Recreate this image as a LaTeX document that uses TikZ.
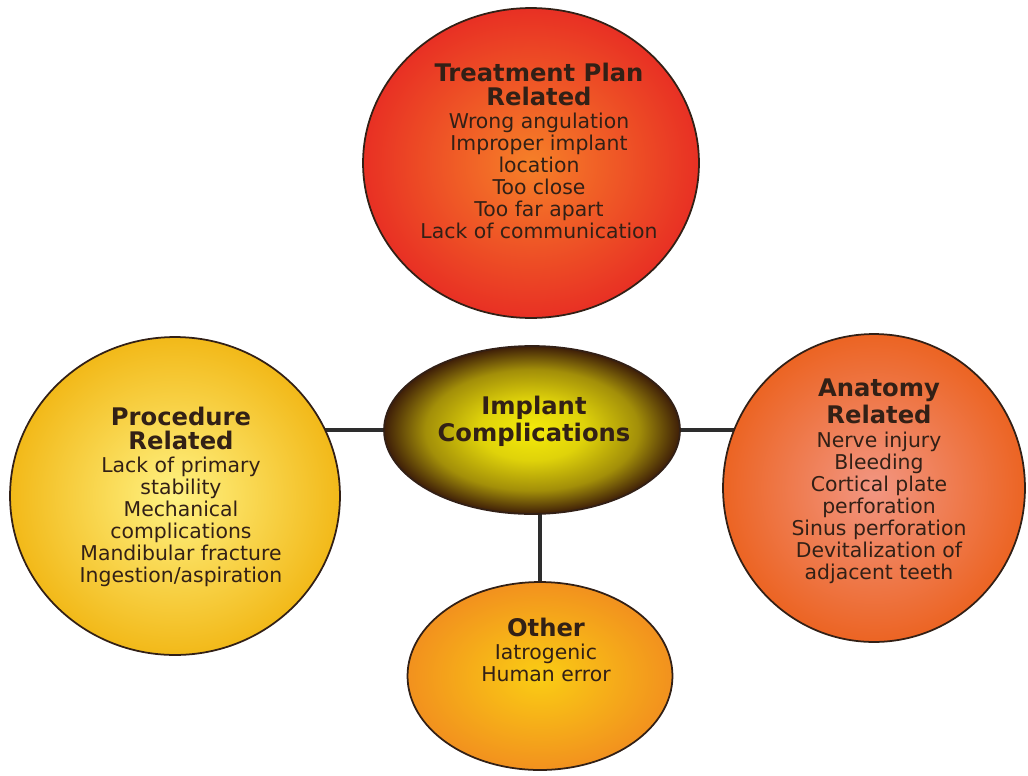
\documentclass[tikz,border=0pt]{standalone}
\usepackage{fontspec}
\setmainfont{DejaVu Sans}
\usetikzlibrary{shapes.geometric,backgrounds}
\definecolor{inkbrown}{RGB}{50,32,22}
\definecolor{linegray}{RGB}{45,45,45}
\definecolor{planout}{RGB}{232,48,36}
\definecolor{planin}{RGB}{246,128,40}
\definecolor{hubout}{RGB}{62,30,8}
\definecolor{hubin}{RGB}{245,235,10}
\definecolor{procout}{RGB}{242,185,25}
\definecolor{procin}{RGB}{255,242,130}
\definecolor{anatout}{RGB}{236,100,35}
\definecolor{anatin}{RGB}{242,150,130}
\definecolor{othout}{RGB}{242,145,30}
\definecolor{othin}{RGB}{250,205,20}
\pgfdeclareradialshading[hubin,hubout]{hubglow}{\pgfpoint{0bp}{0bp}}{color(0bp)=(hubin); color(9bp)=(hubin!88!hubout); color(18bp)=(hubin!55!hubout); color(25bp)=(hubout); color(50bp)=(hubout)}
\newcommand{\hd}[1]{{\fontsize{13.8}{14.4}\selectfont\bfseries #1}}
\tikzset{
  bub/.style={ellipse, draw=inkbrown, line width=1pt, inner sep=0pt, shading=radial},
  txt/.style={align=center, text=inkbrown, inner sep=0pt, font=\fontsize{11.6}{12.5}\selectfont},
  link/.style={draw=linegray, line width=1.8pt}
}
\begin{document}
\begin{tikzpicture}[x=0.02cm,y=-0.02cm]
\useasboundingbox (0,0) rectangle (1028,775);
\node[bub, minimum width=6.72cm, minimum height=6.2cm, inner color=planin, outer color=planout] (plan) at (531,163) {};
\node[bub, minimum width=5.92cm, minimum height=3.36cm, shading=hubglow] (hub) at (532,430) {};
\node[bub, minimum width=6.6cm, minimum height=6.36cm, inner color=procin, outer color=procout] (proc) at (175,496) {};
\node[bub, minimum width=6.04cm, minimum height=6.16cm, inner color=anatin, outer color=anatout] (anat) at (874,488) {};
\node[bub, minimum width=5.3cm, minimum height=3.76cm, inner color=othin, outer color=othout] (other) at (540,676) {};
% texts
\node[txt] (plantxt) at (539,151) {\hd{Treatment Plan}\\[1pt]\hd{Related}\\[1pt]Wrong angulation\\Improper implant\\location\\Too close\\Too far apart\\Lack of communication};
\node[txt] (hubtxt) at (534,421) {\hd{Implant}\\[1pt]\hd{Complications}};
\node[txt] (proctxt) at (181,497) {\hd{Procedure}\\[1pt]\hd{Related}\\[1pt]Lack of primary\\stability\\Mechanical\\complications\\Mandibular fracture\\Ingestion/aspiration};
\node[txt] (anattxt) at (879,481) {\hd{Anatomy}\\[1pt]\hd{Related}\\[1pt]Nerve injury\\Bleeding\\Cortical plate\\perforation\\Sinus perforation\\Devitalization of\\adjacent teeth};
\node[txt] (othtxt) at (546,650) {\hd{Other}\\[1pt]Iatrogenic\\Human error};
% connectors behind the bubbles
\begin{pgfonlayer}{background}
\draw[link] (hub.center) -- (plan.center |- hub.center);
\draw[link] (hub.center) -- (hub.center -| proc.center);
\draw[link] (hub.center) -- (hub.center -| anat.center);
\draw[link] (other.center) -- (other.center |- hub.center);
\end{pgfonlayer}
\end{tikzpicture}
\end{document}
